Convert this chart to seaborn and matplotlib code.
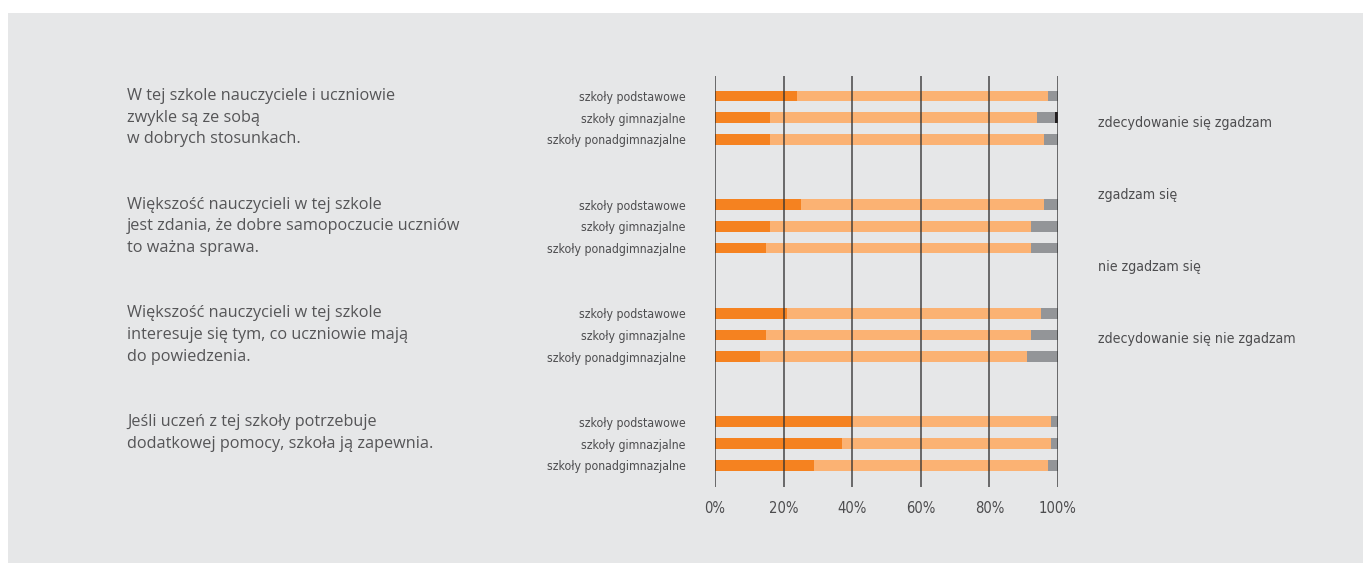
import matplotlib
matplotlib.use("Agg")
import matplotlib.pyplot as plt
from matplotlib import font_manager
from matplotlib.transforms import blended_transform_factory
import numpy as np
import pandas as pd
import seaborn as sns

# --- data -----------------------------------------------------------------
statements = [
    ["W tej szkole nauczyciele i uczniowie", "zwykle są ze sobą", "w dobrych stosunkach."],
    ["Większość nauczycieli w tej szkole", "jest zdania, że dobre samopoczucie uczniów", "to ważna sprawa."],
    ["Większość nauczycieli w tej szkole", "interesuje się tym, co uczniowie mają", "do powiedzenia."],
    ["Jeśli uczeń z tej szkoły potrzebuje", "dodatkowej pomocy, szkoła ją zapewnia."],
]
school_types = ["szkoły podstawowe", "szkoły gimnazjalne", "szkoły ponadgimnazjalne"]
answers = ["zdecydowanie się zgadzam", "zgadzam się", "nie zgadzam się",
           "zdecydowanie się nie zgadzam"]

strongly_agree = [24, 16, 16, 25, 16, 15, 21, 15, 13, 40, 37, 29]
agree = [73, 78, 80, 71, 76, 77, 74, 77, 78, 58, 61, 68]
disagree = [3, 5, 4, 4, 8, 8, 5, 8, 9, 2, 2, 3]
strongly_disagree = [0, 1, 0, 0, 0, 0, 0, 0, 0, 0, 0, 0]

x_ticks = [0, 20, 40, 60, 80, 100]
x_tick_labels = ["0%", "20%", "40%", "60%", "80%", "100%"]

colors = ["#F58220", "#FBB273", "#939598", "#231F20"]
bg = "#E6E7E8"
text_col = "#4D4D4F"

# --- fonts ----------------------------------------------------------------
available = {f.name for f in font_manager.fontManager.ttflist}
regular = "Open Sans" if "Open Sans" in available else "DejaVu Sans"
narrow = dict(fontfamily="DejaVu Sans", fontstretch="condensed")

sns.set_theme(style="white")
plt.rcParams["font.family"] = [regular, "DejaVu Sans"]

# --- layout of rows: three bars per statement, gap between statements ----
rows = []
for g in range(len(statements)):
    for s in range(len(school_types)):
        rows.append(g * 5 + s)

df = pd.DataFrame({
    "row": rows,
    "school": school_types * len(statements),
    "a": strongly_agree,
    "b": agree,
    "c": disagree,
    "d": strongly_disagree,
})
# cumulative totals so that overlapping bars form the stacked segments
df["cum_a"] = df["a"]
df["cum_b"] = df["a"] + df["b"]
df["cum_c"] = df["cum_b"] + df["c"]
df["cum_d"] = df["cum_c"] + df["d"]

W, H = 1363, 565
fig = plt.figure(figsize=(W / 100, H / 100), dpi=100, facecolor="white")
# grey panel behind everything
fig.patches.append(plt.Rectangle((8 / W, 2 / H), 1 - 8 / W, (563 - 13) / H,
                                 transform=fig.transFigure, facecolor=bg,
                                 edgecolor="none", zorder=-10))

ax = fig.add_axes([715 / W, 1 - 487 / H, (1058 - 715) / W, (487 - 76) / H])
ax.set_zorder(2)
ax.set_facecolor("none")

for col, c in zip(["cum_d", "cum_c", "cum_b", "cum_a"], colors[::-1]):
    sns.barplot(data=df, x=col, y="row", orient="y", native_scale=True,
                color=c, width=0.5, saturation=1, linewidth=0,
                errorbar=None, ax=ax)

ax.set_xlim(0, 100)
ax.set_ylim(18.0, -0.92)
for spine in ax.spines.values():
    spine.set_visible(False)

for xv in x_ticks:
    ax.axvline(xv, color="#2E2E2E", lw=1.2, alpha=0.8, zorder=5)

ax.set_xticks(x_ticks)
ax.set_xticklabels(x_tick_labels, fontsize=10.6, color=text_col, **narrow)
ax.set_yticks(rows)
ax.set_yticklabels(df["school"], fontsize=8.8, color=text_col, **narrow)
ax.tick_params(axis="x", length=0, pad=10)
ax.tick_params(axis="y", length=0, pad=21)
ax.set_xlabel("")
ax.set_ylabel("")

# statement texts, one line per bar row
trans = blended_transform_factory(fig.transFigure, ax.transData)
for g, lines in enumerate(statements):
    for i, line in enumerate(lines):
        fig.text(127 / W, g * 5 + i, line, transform=trans, ha="left",
                 va="center", fontsize=11.7, color="#555557",
                 fontfamily=[regular, "DejaVu Sans"])

# answer labels on the right
for i, lab in enumerate(answers):
    fig.text(1098 / W, 1 - (123 + 72 * i) / H, lab, ha="left", va="center",
             fontsize=10.2, color=text_col, **narrow)

fig.savefig("out.png", dpi=100, facecolor="white")
